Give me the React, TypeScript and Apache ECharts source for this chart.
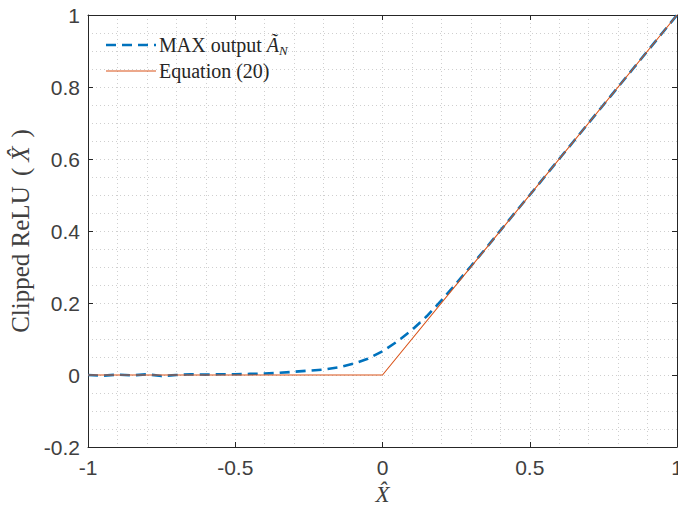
import React, { useEffect, useRef } from "react";
import * as echarts from "echarts";

const xHat = [-1, -0.95, -0.9, -0.85, -0.8, -0.75, -0.7, -0.65, -0.6, -0.55, -0.5, -0.45, -0.4, -0.35, -0.3, -0.25, -0.2, -0.15, -0.1, -0.05, 0, 0.05, 0.1, 0.15, 0.2, 0.25, 0.3, 0.35, 0.4, 0.45, 0.5, 0.55, 0.6, 0.65, 0.7, 0.75, 0.8, 0.85, 0.9, 0.95, 1];
const maxOutput = [0.0, -0.002, 0.001, -0.001, 0.002, -0.003, 0.0, 0.002, 0.001, 0.002, 0.002, 0.003, 0.004, 0.006, 0.009, 0.012, 0.015, 0.021, 0.031, 0.045, 0.066, 0.093, 0.125, 0.163, 0.207, 0.254, 0.302, 0.351, 0.401, 0.451, 0.5, 0.55, 0.6, 0.65, 0.7, 0.75, 0.8, 0.85, 0.9, 0.95, 1.0];
const eqX = [-1, 0, 1];
const eqY = [0, 0, 1];
const xTicks = [-1, -0.5, 0, 0.5, 1];
const yTicks = [-0.2, 0, 0.2, 0.4, 0.6, 0.8, 1];

const seriesNames = ["MAX output AN", "Equation (20)"];
const legendLabels = ["{r|MAX output }{i|\u00C3}{s|N}", "{r|Equation (20)}"];

export default function App() {
  const ref = useRef<HTMLDivElement>(null);
  useEffect(() => {
    if (!ref.current) return;
    const chart = echarts.init(ref.current, null, { renderer: "svg" });
    const axisColor = "#262626";
    const gridColor = "#cfcfcf";
    const textColor = "#404040";
    const blue = "#0072BD";
    const red = "#D95319";
    const tickFont = { fontFamily: "Liberation Sans, Arial, sans-serif", fontSize: 21, color: textColor };
    const serif = "Liberation Serif, Times New Roman, serif";
    const dotted = { color: gridColor, type: [1, 3], width: 1 };
    const legendRich = {
      r: { fontFamily: serif, fontSize: 20, fill: "#262626", color: "#262626" },
      i: { fontFamily: serif, fontSize: 20, fontStyle: "italic", fill: "#262626", color: "#262626" },
      s: { fontFamily: serif, fontSize: 13, fontStyle: "italic", fill: "#262626", color: "#262626", padding: [10, 0, 0, 0] },
    };
    chart.setOption({
      animation: false,
      backgroundColor: "#ffffff",
      grid: { left: 88, right: 1, top: 15, bottom: 61, containLabel: false, outerBoundsMode: "none" },
      graphic: [
        {
          type: "line",
          shape: { x1: 106, y1: 45, x2: 156, y2: 45 },
          style: { stroke: blue, lineWidth: 2.6, lineDash: [10, 6] },
          z: 10,
        },
        {
          type: "text",
          x: 159,
          y: 45,
          style: { text: legendLabels[0], rich: legendRich, verticalAlign: "middle", fontFamily: serif, fontSize: 20, fill: "#262626" },
          z: 10,
        },
        {
          type: "line",
          shape: { x1: 106, y1: 71, x2: 156, y2: 71 },
          style: { stroke: red, lineWidth: 1.1 },
          z: 10,
        },
        {
          type: "text",
          x: 159,
          y: 71,
          style: { text: legendLabels[1], rich: legendRich, verticalAlign: "middle", fontFamily: serif, fontSize: 20, fill: "#262626" },
          z: 10,
        },
      ],
      xAxis: [
        {
          type: "value",
          min: -1,
          max: 1,
          interval: 0.5,
          position: "bottom",
          name: "X\u0302",
          nameLocation: "middle",
          nameGap: 33,
          nameTextStyle: { fontFamily: serif, fontSize: 23, fontStyle: "italic", color: textColor },
          axisLine: { show: true, onZero: false, lineStyle: { color: axisColor, width: 1 } },
          axisTick: { show: true, inside: true, length: 5, lineStyle: { color: axisColor } },
          axisLabel: {
            ...tickFont,
            margin: 10,
            formatter: (v: number) => (xTicks.includes(v) ? String(v) : ""),
          },
          splitLine: { show: true, lineStyle: dotted },
          minorTick: { show: false, splitNumber: 5 },
          minorSplitLine: { show: true, lineStyle: dotted },
        },
        {
          type: "value",
          min: -1,
          max: 1,
          interval: 0.5,
          position: "top",
          axisLine: { show: true, onZero: false, lineStyle: { color: axisColor, width: 1 } },
          axisTick: { show: true, inside: true, length: 5, lineStyle: { color: axisColor } },
          axisLabel: { show: false },
          splitLine: { show: false },
        },
      ],
      yAxis: [
        {
          type: "value",
          min: -0.2,
          max: 1,
          interval: 0.2,
          position: "left",
          name: "{r|Clipped ReLU }{p|(}{i|X\u0302}{q|)}",
          nameLocation: "middle",
          nameGap: 45,
          nameRotate: 90,
          nameTextStyle: {
            fontFamily: serif,
            fontSize: 25,
            color: textColor,
            rich: {
              r: { fontFamily: serif, fontSize: 25, color: textColor },
              p: { fontFamily: serif, fontSize: 25, color: textColor, padding: [0, 6, 0, 4] },
              i: { fontFamily: serif, fontSize: 25, fontStyle: "italic", color: textColor },
              q: { fontFamily: serif, fontSize: 25, color: textColor, padding: [0, 0, 0, 9] },
            },
          },
          axisLine: { show: true, onZero: false, lineStyle: { color: axisColor, width: 1 } },
          axisTick: { show: true, inside: true, length: 5, lineStyle: { color: axisColor } },
          axisLabel: {
            ...tickFont,
            margin: 8,
            formatter: (v: number) => {
              const t = yTicks.find((y) => Math.abs(y - v) < 1e-9);
              return t === undefined ? "" : String(t);
            },
          },
          splitLine: { show: true, lineStyle: dotted },
          minorTick: { show: false, splitNumber: 4 },
          minorSplitLine: { show: true, lineStyle: dotted },
        },
        {
          type: "value",
          min: -0.2,
          max: 1,
          interval: 0.2,
          position: "right",
          axisLine: { show: true, onZero: false, lineStyle: { color: axisColor, width: 1 } },
          axisTick: { show: true, inside: true, length: 5, lineStyle: { color: axisColor } },
          axisLabel: { show: false },
          splitLine: { show: false },
        },
      ],
      series: [
        {
          name: seriesNames[0],
          type: "line",
          xAxisIndex: 0,
          yAxisIndex: 0,
          symbol: "none",
          showSymbol: false,
          smooth: false,
          data: xHat.map((x, i) => [x, maxOutput[i]]),
          lineStyle: { color: blue, width: 2.6, type: [10, 6] },
          itemStyle: { color: blue },
        },
        {
          name: seriesNames[1],
          type: "line",
          xAxisIndex: 0,
          yAxisIndex: 0,
          symbol: "none",
          showSymbol: false,
          data: eqX.map((x, i) => [x, eqY[i]]),
          lineStyle: { color: red, width: 1.1 },
          itemStyle: { color: red },
        },
      ],
    });
    return () => chart.dispose();
  }, []);
  return <div ref={ref} style={{ width: 678, height: 508, position: "absolute", left: 0, top: 0 }} />;
}
